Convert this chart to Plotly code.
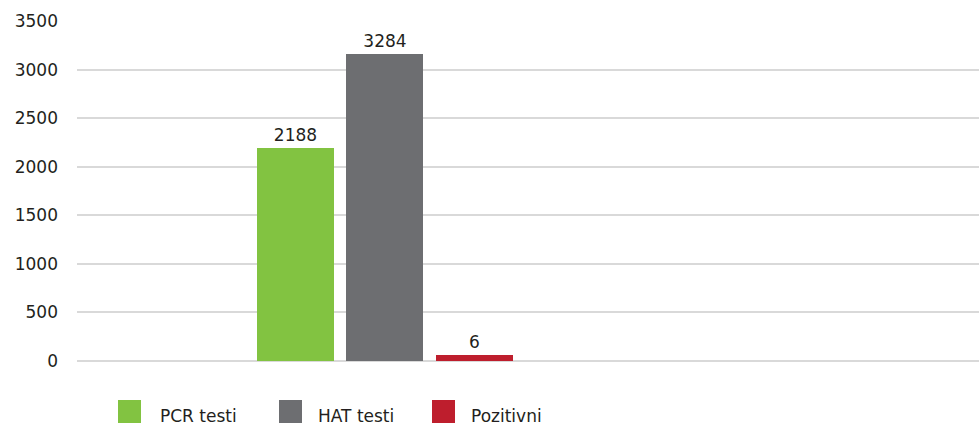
import plotly.graph_objects as go

# Data
series_names = ["PCR testi", "HAT testi", "Pozitivni"]
bar_values = [2190, 3160, 62]          # bar heights as drawn in the picture
label_texts = ["2188", "3284", "6"]    # printed data labels
colors = ["#82c341", "#6d6e71", "#be1e2d"]
y_ticks = [0, 500, 1000, 1500, 2000, 2500, 3000, 3500]

W, H = 979, 426
ML, MR, MT, MB = 77, 0, 21, 65
FONT = "DejaVu Sans"
TXT = "#231f20"

fig = go.Figure()
for i, (name, v, t, c) in enumerate(zip(series_names, bar_values, label_texts, colors)):
    fig.add_trace(go.Bar(
        x=[i], y=[v], name=name, width=0.86,
        marker=dict(color=c, line=dict(width=0)),
        text=[t], textposition="outside", cliponaxis=False,
        textfont=dict(family=FONT, size=17, color=TXT),
        showlegend=False, hoverinfo="skip",
    ))

# custom legend (large square swatches)
pw = W - ML - MR
ph = H - MT - MB
def px_to_paper_x(px):
    return (px - ML) / pw
def px_to_paper_y(py):
    return (H - MB - py) / ph

legend_sq_x = [118, 279, 432]
legend_txt_x = [158, 316, 469]
shapes, annotations = [], []
for name, c, lx, tx in zip(series_names, colors, legend_sq_x, legend_txt_x):
    shapes.append(dict(type="rect", xref="paper", yref="paper",
                       x0=px_to_paper_x(lx), x1=px_to_paper_x(lx + 23),
                       y0=px_to_paper_y(400), y1=px_to_paper_y(423),
                       fillcolor=c, line=dict(width=0)))
    annotations.append(dict(xref="paper", yref="paper",
                            x=px_to_paper_x(tx), y=px_to_paper_y(416),
                            xanchor="left", yanchor="middle", showarrow=False,
                            text=name, font=dict(family=FONT, size=17, color=TXT)))

fig.update_layout(
    width=W, height=H,
    margin=dict(l=ML, r=MR, t=MT, b=MB),
    paper_bgcolor="white", plot_bgcolor="white",
    font=dict(family=FONT, size=17, color=TXT),
    bargap=0, showlegend=False, hovermode=False,
    shapes=shapes, annotations=annotations,
    xaxis=dict(range=[-2.441, 7.637], showticklabels=False, showgrid=False,
               zeroline=False, showline=False, ticks=""),
    yaxis=dict(range=[0, 3500], tickvals=y_ticks, ticktext=[str(v) for v in y_ticks],
               showgrid=True, gridcolor="#d9d9d9", gridwidth=2,
               zeroline=True, zerolinecolor="#d9d9d9", zerolinewidth=2,
               showline=False, ticks="", ticklabelstandoff=18,
               tickfont=dict(family=FONT, size=17, color=TXT)),
)

fig.write_html("out.html", config={"displayModeBar": False, "staticPlot": True},
               post_script="document.body.style.margin='0';document.body.style.overflow='hidden';")
